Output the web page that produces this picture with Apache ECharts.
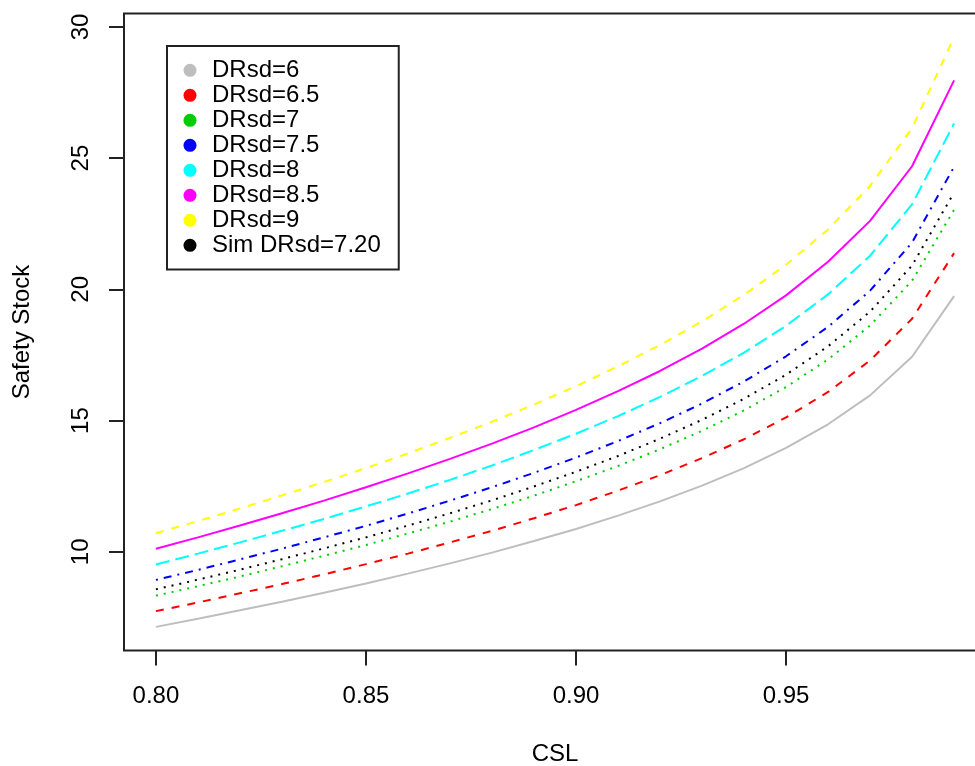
<!DOCTYPE html>
<html>
<head>
<meta charset="utf-8">
<script src="https://cdn.jsdelivr.net/npm/echarts@6/dist/echarts.min.js"></script>
<style>
  html, body { margin: 0; padding: 0; background: #fff; }
  #chart { width: 975px; height: 766px; }
</style>
</head>
<body>
<div id="chart"></div>
<script>
// CSL grid
const csl = [0.80, 0.81, 0.82, 0.83, 0.84, 0.85, 0.86, 0.87, 0.88, 0.89,
  0.90, 0.91, 0.92, 0.93, 0.94, 0.95, 0.96, 0.97, 0.98, 0.99]

// safety stock
const ss60 = [7.14, 7.45, 7.77, 8.10, 8.44, 8.79, 9.17, 9.56, 9.97, 10.41,
  10.87, 11.38, 11.92, 12.52, 13.19, 13.96, 14.86, 15.96, 17.43, 19.74]
const ss65 = [7.74, 8.07, 8.42, 8.77, 9.14, 9.53, 9.93, 10.36, 10.80, 11.28,
  11.78, 12.33, 12.92, 13.57, 14.29, 15.12, 16.09, 17.29, 18.88, 21.38]
const ss70 = [8.33, 8.69, 9.06, 9.45, 9.85, 10.26, 10.70, 11.15, 11.63, 12.14,
  12.69, 13.27, 13.91, 14.61, 15.39, 16.28, 17.33, 18.62, 20.33, 23.03]
const ss75 = [8.93, 9.31, 9.71, 10.12, 10.55, 10.99, 11.46, 11.95, 12.46, 13.01,
  13.59, 14.22, 14.90, 15.65, 16.49, 17.45, 18.57, 19.95, 21.78, 24.67]
const ss80 = [9.52, 9.93, 10.36, 10.80, 11.25, 11.73, 12.22, 12.74, 13.29, 13.88,
  14.50, 15.17, 15.90, 16.70, 17.59, 18.61, 19.81, 21.28, 23.24, 26.32]
const ss85 = [10.12, 10.55, 11.00, 11.47, 11.95, 12.46, 12.99, 13.54, 14.12, 14.74,
  15.41, 16.12, 16.89, 17.74, 18.69, 19.77, 21.05, 22.61, 24.69, 27.96]
const ss90 = [10.71, 11.17, 11.65, 12.15, 12.66, 13.19, 13.75, 14.34, 14.96, 15.61,
  16.31, 17.07, 17.88, 18.78, 19.79, 20.94, 22.28, 23.94, 26.14, 29.61]
const ssSim = [8.57, 8.94, 9.32, 9.72, 10.13, 10.55, 11.00, 11.47, 11.96, 12.49,
  13.05, 13.65, 14.31, 15.03, 15.83, 16.75, 17.83, 19.15, 20.91, 23.69]

const seriesNames = ['DRsd=6', 'DRsd=6.5', 'DRsd=7', 'DRsd=7.5', 'DRsd=8',
  'DRsd=8.5', 'DRsd=9', 'Sim DRsd=7.20']
const seriesValues = [ss60, ss65, ss70, ss75, ss80, ss85, ss90, ssSim]

const xTicks = [0.80, 0.85, 0.90, 0.95]
const yTicks = [10, 15, 20, 25, 30]

// R-like line styles
const colors = ['#BEBEBE', '#FF0000', '#00CD00', '#0000FF', '#00FFFF', '#FF00FF', '#FFFF00', '#000000']
const dashes = ['solid', [8, 8], [2, 6], [2, 6, 8, 6], [14, 6], 'solid', [8, 8], [2, 6]]

const font = 'Liberation Sans, Arial, Helvetica, sans-serif'
const ink = '#222'

const chart = echarts.init(document.getElementById('chart'))

const series = seriesValues.map((vals, i) => ({
  name: seriesNames[i],
  type: 'line',
  data: vals.map((v, j) => [csl[j], v]),
  symbol: 'none',
  smooth: false,
  silent: true,
  itemStyle: { color: colors[i] },
  lineStyle: { color: colors[i], width: 2, type: dashes[i], cap: 'butt' },
  z: 10 - i
}))

const option = {
  animation: false,
  backgroundColor: '#fff',
  textStyle: { fontFamily: font },
  grid: {
    left: 124,
    top: 13.5,
    width: 862,
    height: 637,
    outerBoundsMode: 'none',
    containLabel: false,
    show: true,
    borderColor: ink,
    borderWidth: 2,
    backgroundColor: 'transparent'
  },
  legend: {
    orient: 'vertical',
    left: 167,
    top: 46,
    icon: 'circle',
    itemWidth: 13,
    itemHeight: 13,
    itemGap: 0.4,
    itemStyle: { borderWidth: 0 },
    selectedMode: false,
    padding: [12, 18, 12, 16.5],
    borderColor: ink,
    borderWidth: 2,
    textStyle: { fontSize: 24, lineHeight: 24.6, color: '#000', fontFamily: font, padding: [0, 0, 0, 10.5] },
    data: seriesNames
  },
  xAxis: {
    type: 'value',
    min: 0.7924,
    max: 0.9976,
    name: 'CSL',
    nameLocation: 'middle',
    nameGap: 92,
    nameTextStyle: { fontSize: 24, color: '#000', fontFamily: font },
    axisLine: { show: false, onZero: false },
    axisTick: { show: true, customValues: xTicks, length: 15, lineStyle: { color: ink, width: 2 } },
    axisLabel: {
      customValues: xTicks,
      formatter: (v) => v.toFixed(2),
      fontSize: 24,
      color: '#000',
      margin: 34,
      fontFamily: font
    },
    splitLine: { show: false }
  },
  yAxis: {
    type: 'value',
    min: 6.24,
    max: 30.51,
    name: 'Safety Stock',
    nameLocation: 'middle',
    nameGap: 90,
    nameTextStyle: { fontSize: 24, color: '#000', fontFamily: font },
    axisLine: { show: false, onZero: false },
    axisTick: { show: true, customValues: yTicks, length: 15, lineStyle: { color: ink, width: 2 } },
    axisLabel: {
      customValues: yTicks,
      rotate: 90,
      fontSize: 24,
      color: '#000',
      margin: 31,
      fontFamily: font
    },
    splitLine: { show: false }
  },
  series
}

chart.setOption(option)
</script>
</body>
</html>
